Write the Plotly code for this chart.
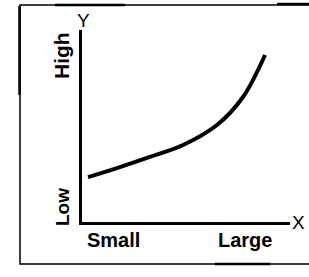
import plotly.graph_objects as go

# Data (arbitrary 0-10 units)
curve_x = [0.29, 1.68, 3.27, 4.86, 6.49, 7.74, 8.8]
curve_y = [2.34, 2.81, 3.39, 4.01, 5.05, 6.51, 8.7]
x_tick_labels = ["Small", "Large"]
y_tick_labels = ["Low", "High"]
x_title = "X"
y_title = "Y"

W, H = 309, 277
L, T, R = 82, 30, 19
B = H - 222
pw, ph = W - L - R, H - T - B

def px(x):
    return (x - L) / pw

def py(y):
    return (H - B - y) / ph

fig = go.Figure()
fig.add_trace(go.Scatter(x=curve_x, y=curve_y, mode="lines",
                         line=dict(color="black", width=4, shape="spline", smoothing=1),
                         hoverinfo="skip", showlegend=False))

font = dict(family="Liberation Sans, Arial, sans-serif", color="black", weight="bold")
plain = dict(family="Liberation Sans, Arial, sans-serif", color="black")
ann = []
ann.append(dict(text=x_tick_labels[0], x=px(113), y=py(240), font=dict(size=20, **font)))
ann.append(dict(text=x_tick_labels[1], x=px(245), y=py(240), font=dict(size=20, **font)))
ann.append(dict(text=y_tick_labels[1], x=px(62), y=py(56), textangle=-90, font=dict(size=21, **font)))
ann.append(dict(text=y_tick_labels[0], x=px(62), y=py(207), textangle=-90, font=dict(size=19, **font)))
ann.append(dict(text=x_title, x=px(298), y=py(222), font=dict(size=19, **plain)))
ann.append(dict(text=y_title, x=px(83), y=py(20), font=dict(size=19, **plain)))
for a in ann:
    a.update(xref="paper", yref="paper", showarrow=False, xanchor="center", yanchor="middle")

shapes = [
    dict(type="rect", xref="paper", yref="paper", x0=px(20), x1=px(330), y0=py(264), y1=py(5),
         line=dict(color="black", width=1.5)),
    dict(type="line", xref="paper", yref="paper", x0=px(55), x1=px(125), y0=py(5), y1=py(5),
         line=dict(color="black", width=2.5)),
    dict(type="line", xref="paper", yref="paper", x0=px(277), x1=px(312), y0=py(4), y1=py(4),
         line=dict(color="black", width=2.5)),
    dict(type="line", xref="paper", yref="paper", x0=px(19.5), x1=px(19.5), y0=py(6), y1=py(95),
         line=dict(color="black", width=2.5)),
    dict(type="line", xref="paper", yref="paper", x0=px(215), x1=px(270), y0=py(264), y1=py(264),
         line=dict(color="black", width=2.5)),
]

fig.update_layout(
    width=W, height=H,
    margin=dict(l=L, r=R, t=T, b=B, pad=0),
    paper_bgcolor="white", plot_bgcolor="white",
    annotations=ann, shapes=shapes,
    xaxis=dict(range=[0, 10], showline=True, linecolor="black", linewidth=2.5,
               showgrid=False, zeroline=False, showticklabels=False, ticks=""),
    yaxis=dict(range=[0, 10], showline=True, linecolor="black", linewidth=3,
               showgrid=False, zeroline=False, showticklabels=False, ticks=""),
)

fig.write_html(
    "out.html",
    config={"displayModeBar": False, "staticPlot": True},
    post_script="document.body.style.margin='0';document.body.style.overflow='hidden';",
)
